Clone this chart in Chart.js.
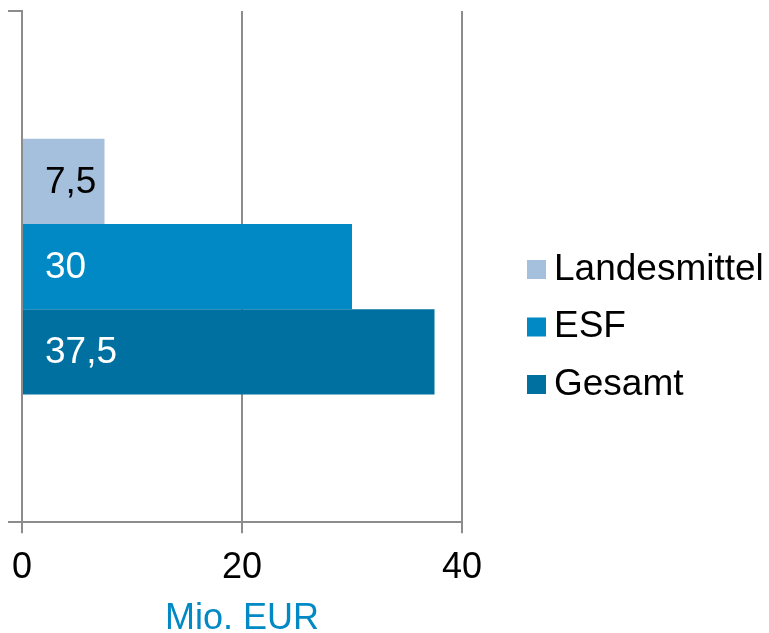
<!DOCTYPE html>
<html>
<head>
<meta charset="utf-8">
<script src="https://cdn.jsdelivr.net/npm/chart.js@4"></script>
<style>
  html, body { margin: 0; padding: 0; background: #fff; }
  canvas { display: block; }
</style>
</head>
<body>
<canvas id="chart" width="769" height="633"></canvas>
<script>
// Werte aus der Grafik
const categories = ['']
const seriesNames = ['Landesmittel', 'ESF', 'Gesamt']
const landesmittel = [7.5]
const esf = [30]
const gesamt = [37.5]
const xTicks = [0, 20, 40]
const axisTitle = 'Mio. EUR'

const colors = ['#a5c0dc', '#0089c4', '#0070a0']
const labelColors = ['#000000', '#ffffff', '#ffffff']
const gridColor = '#8c8c8c'

Chart.defaults.font.family = '"Liberation Sans", Arial, sans-serif'
Chart.defaults.color = '#000'

// Werte in die Balken schreiben
const barLabels = {
    id: 'barLabels',
    afterDatasetsDraw(chart) {
        const ctx = chart.ctx
        ctx.save()
        ctx.font = '37px "Liberation Sans", Arial, sans-serif'
        ctx.textAlign = 'left'
        ctx.textBaseline = 'middle'
        chart.data.datasets.forEach((ds, i) => {
            chart.getDatasetMeta(i).data.forEach((bar, j) => {
                ctx.fillStyle = labelColors[i]
                ctx.fillText(ds.data[j].toLocaleString('de-DE'), bar.base + 22, bar.y + 1)
            })
        })
        ctx.restore()
    }
}

// Legende rechts, wie im Original
const sideLegend = {
    id: 'sideLegend',
    afterDraw(chart) {
        const ctx = chart.ctx
        ctx.save()
        ctx.font = '37px "Liberation Sans", Arial, sans-serif'
        ctx.textBaseline = 'middle'
        ctx.textAlign = 'left'
        chart.data.datasets.forEach((ds, i) => {
            const cy = 269.5 + i * 57.5
            ctx.fillStyle = ds.backgroundColor
            ctx.fillRect(527, cy - 9.5, 19, 19)
            ctx.fillStyle = '#000'
            ctx.fillText(ds.label, 554, cy)
        })
        ctx.restore()
    }
}

const myChart = new Chart(document.getElementById('chart').getContext('2d'), {
    type: 'bar',
    data: {
        labels: categories,
        datasets: [
            { label: seriesNames[0], data: landesmittel, backgroundColor: colors[0] },
            { label: seriesNames[1], data: esf, backgroundColor: colors[1] },
            { label: seriesNames[2], data: gesamt, backgroundColor: colors[2] }
        ]
    },
    options: {
        indexAxis: 'y',
        responsive: false,
        animation: false,
        devicePixelRatio: 1,
        datasets: {
            bar: { categoryPercentage: 0.5, barPercentage: 1.0 }
        },
        layout: {
            padding: { top: 11, left: 8, right: 307, bottom: 0 }
        },
        plugins: {
            legend: { display: false },
            tooltip: { enabled: false }
        },
        scales: {
            x: {
                min: 0,
                max: 40,
                afterBuildTicks: axis => { axis.ticks = xTicks.map(v => ({ value: v })) },
                grid: { color: gridColor, lineWidth: 2, tickLength: 11 },
                border: { color: gridColor, width: 2 },
                ticks: {
                    padding: 9,
                    color: '#000',
                    font: { size: 36, lineHeight: 1.444 }
                },
                title: {
                    display: true,
                    text: axisTitle,
                    color: '#0089c4',
                    font: { size: 36, lineHeight: 0.8 },
                    padding: { top: 1, bottom: 0 }
                }
            },
            y: {
                offset: true,
                grid: {
                    offset: true,
                    drawOnChartArea: false,
                    color: gridColor,
                    lineWidth: 2,
                    tickLength: 14
                },
                border: { color: gridColor, width: 2 },
                ticks: { display: false }
            }
        }
    },
    plugins: [barLabels, sideLegend]
})
</script>
</body>
</html>
